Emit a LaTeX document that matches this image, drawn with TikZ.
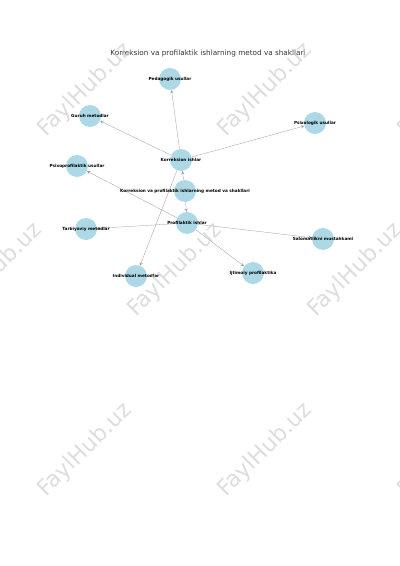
\documentclass[tikz,border=0pt]{standalone}
\usepackage{fontspec}
\setmainfont{DejaVu Sans}
\definecolor{lightblue}{RGB}{173,216,230}
\begin{document}
\begin{tikzpicture}[x=0.03cm,y=-0.03cm,
  topic/.style={circle,fill=lightblue,minimum size=0.66cm,inner sep=0pt},
  lbl/.style={font=\bfseries\fontsize{3.6}{4}\selectfont,text=black},
  link/.style={->,>=stealth,gray!80,line width=0.25pt},
  wmark/.style={font=\fontsize{19}{22}\selectfont,text=gray!45,opacity=0.6,rotate=45}]
\useasboundingbox (0,0) rectangle (400,566);
\node[font=\fontsize{6.2}{7}\selectfont,text=black!80] (title) at (208,53) {Korreksion va profilaktik ishlarning metod va shakllari};

% circles
\node[topic] (root) at (185,191) {};
\node[topic] (kor) at (181,160) {};
\node[topic] (pro) at (187,223) {};
\node[topic] (ped) at (170,79) {};
\node[topic] (gur) at (90,116) {};
\node[topic] (psi) at (315,123) {};
\node[topic] (ind) at (136,276) {};
\node[topic] (pspro) at (77,166) {};
\node[topic] (tar) at (86,229) {};
\node[topic] (sal) at (323,239) {};
\node[topic] (ijt) at (253,273) {};

% links
\draw[link] (root) -- (kor);
\draw[link] (root) -- (pro);
\foreach \t in {ped,gur,psi,ind}
  \draw[link] (kor) -- (\t);
\foreach \t in {pspro,tar,sal,ijt}
  \draw[link] (pro) -- (\t);

% labels
\node[lbl] at (root) {Korreksion va profilaktik ishlarning metod va shakllari};
\node[lbl] at (kor) {Korreksion ishlar};
\node[lbl] at (pro) {Profilaktik ishlar};
\node[lbl] at (ped) {Pedagogik usullar};
\node[lbl] at (gur) {Guruh metodlar};
\node[lbl] at (psi) {Psixologik usullar};
\node[lbl] at (ind) {Individual metodlar};
\node[lbl] at (pspro) {Psixoprofilaktik usullar};
\node[lbl] at (tar) {Tarbiyaviy metodlar};
\node[lbl] at (sal) {Salomatlikni mustahkaml};
\node[lbl] at (ijt) {Ijtimoiy profilaktika};

% watermark
\foreach \x/\y in {85/90,265/90,445/90,-5/270,175/270,355/270,85/450,265/450,445/450}
  \node[wmark] at (\x,\y) {FaylHub.uz};
\end{tikzpicture}
\end{document}
